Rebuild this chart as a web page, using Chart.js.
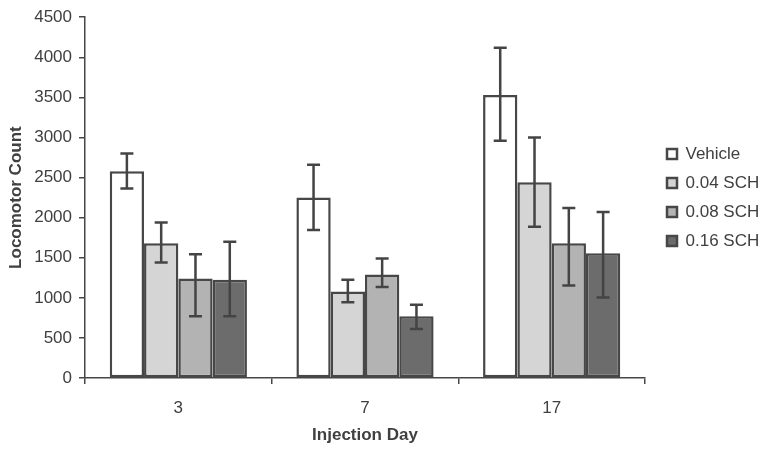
<!DOCTYPE html>
<html>
<head>
<meta charset="utf-8">
<script src="https://cdn.jsdelivr.net/npm/chart.js@4/dist/chart.umd.min.js"></script>
<style>
  html, body { margin: 0; padding: 0; background: #ffffff; }
  #wrap { width: 764px; height: 450px; }
</style>
</head>
<body>
<div id="wrap"><canvas id="c" width="764" height="450"></canvas></div>
<script>
// ---- data ----
const categories = ['3', '7', '17'];
const seriesNames = ['Vehicle', '0.04 SCH', '0.08 SCH', '0.16 SCH'];

const vehicle = [2580, 2250, 3530];
const sch004  = [1680, 1080, 2440];
const sch008  = [1240, 1290, 1680];
const sch016  = [1225, 770, 1555];

// error bar upper / lower ends
const vehicleHigh = [2800, 2660, 4120];
const vehicleLow  = [2365, 1845, 2960];
const sch004High  = [1940, 1225, 3000];
const sch004Low   = [1440, 945, 1885];
const sch008High  = [1545, 1490, 2120];
const sch008Low   = [770, 1135, 1155];
const sch016High  = [1700, 915, 2070];
const sch016Low   = [770, 610, 1005];

const yTicks = [0, 500, 1000, 1500, 2000, 2500, 3000, 3500, 4000, 4500];

// ---- styling ----
const fills = ['#ffffff', '#d5d5d5', '#b3b3b3', '#6c6c6c'];
const edge = '#474747';
const textColor = '#404040';
const values = [vehicle, sch004, sch008, sch016];
const highs = [vehicleHigh, sch004High, sch008High, sch016High];
const lows = [vehicleLow, sch004Low, sch008Low, sch016Low];

const datasets = seriesNames.map((name, i) => ({
  label: name,
  data: values[i],
  backgroundColor: fills[i],
  borderColor: edge,
  borderWidth: 2.5,
  borderSkipped: false,
  errHigh: highs[i],
  errLow: lows[i]
}));

const errorBars = {
  id: 'errorBars',
  afterDatasetsDraw(chart) {
    const ctx = chart.ctx;
    const ys = chart.scales.y;
    ctx.save();
    ctx.strokeStyle = '#444444';
    ctx.lineWidth = 2.5;
    chart.data.datasets.forEach((ds, i) => {
      const meta = chart.getDatasetMeta(i);
      meta.data.forEach((el, j) => {
        const x = el.x;
        const yh = ys.getPixelForValue(ds.errHigh[j]);
        const yl = ys.getPixelForValue(ds.errLow[j]);
        const cap = 6.5;
        ctx.beginPath();
        ctx.moveTo(x, yh); ctx.lineTo(x, yl);
        ctx.moveTo(x - cap, yh); ctx.lineTo(x + cap, yh);
        ctx.moveTo(x - cap, yl); ctx.lineTo(x + cap, yl);
        ctx.stroke();
      });
    });
    ctx.restore();
  }
};

const legendWidth = {
  id: 'legendWidth',
  beforeLayout(chart) {
    const lg = chart.legend;
    if (lg && !lg._fixedFit) {
      const orig = lg.fit.bind(lg);
      lg.fit = function () { orig(); this.width = 109; };
      lg._fixedFit = true;
    }
  }
};

new Chart(document.getElementById('c'), {
  type: 'bar',
  data: { labels: categories, datasets: datasets },
  options: {
    responsive: false,
    animation: false,
    devicePixelRatio: 1,
    layout: { padding: { top: 15, left: 0, right: 0, bottom: 0 } },
    datasets: { bar: { categoryPercentage: 0.735, barPercentage: 1.0 } },
    plugins: {
      tooltip: { enabled: false },
      legend: {
        position: 'right',
        fullSize: false,
        labels: {
          boxWidth: 10,
          boxHeight: 10,
          padding: 12,
          color: textColor,
          font: { family: 'Liberation Sans, Arial, sans-serif', size: 17 }
        }
      }
    },
    scales: {
      x: {
        grid: { display: true, drawOnChartArea: false, drawTicks: true, tickLength: 6, color: edge, lineWidth: 1.5, offset: true },
        border: { display: true, color: edge, width: 1.5 },
        ticks: { color: textColor, padding: 14, font: { family: 'Liberation Sans, Arial, sans-serif', size: 17 } },
        title: {
          display: true, text: 'Injection Day', color: textColor,
          font: { family: 'Liberation Sans, Arial, sans-serif', size: 17, weight: 'bold' },
          padding: { top: 0, bottom: 4 }
        },
        afterFit(s) { s.height = 72; }
      },
      y: {
        min: 0, max: 4500,
        afterBuildTicks(s) { s.ticks = yTicks.map(v => ({ value: v })); },
        grid: { display: true, drawOnChartArea: false, drawTicks: true, tickLength: 6, color: edge, lineWidth: 1.5 },
        border: { display: true, color: edge, width: 1.5 },
        ticks: {
          color: textColor, padding: 7,
          font: { family: 'Liberation Sans, Arial, sans-serif', size: 17 },
          callback: (v) => String(v)
        },
        title: {
          display: true, text: 'Locomotor Count', color: textColor,
          font: { family: 'Liberation Sans, Arial, sans-serif', size: 17, weight: 'bold' },
          padding: { top: 6, bottom: 0 }
        },
        afterFit(s) { s.width = 85; }
      },
      gap: {
        type: 'linear', position: 'right', display: true,
        grid: { display: false }, border: { display: false }, ticks: { display: false },
        afterFit(s) { s.width = 10; }
      }
    }
  },
  plugins: [errorBars, legendWidth]
});
</script>
</body>
</html>
